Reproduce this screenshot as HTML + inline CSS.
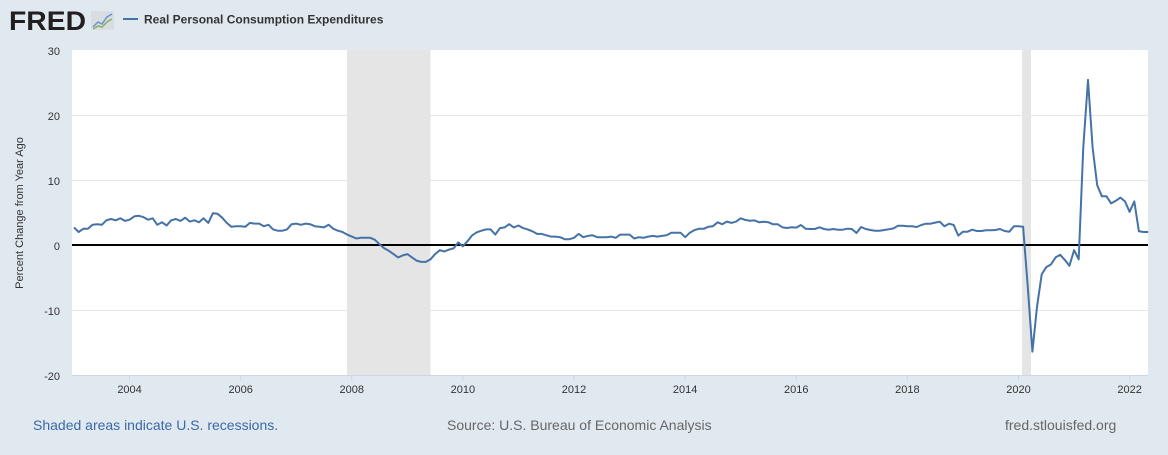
<!DOCTYPE html>
<html><head><meta charset="utf-8"><style>
body{margin:0;width:1168px;height:450px;background:#e1e9f0;font-family:"Liberation Sans",sans-serif;overflow:hidden}
</style></head><body>
<svg width="1168" height="450" xmlns="http://www.w3.org/2000/svg" font-family="Liberation Sans, sans-serif">
<text x="9" y="30" font-size="27" font-weight="bold" fill="#231f20" textLength="77" lengthAdjust="spacingAndGlyphs">FRED</text>
<rect x="91" y="11" width="23" height="19" fill="#d8dde2"/>
<polyline points="93,27 98,22 102,24 107,17 112,14" fill="none" stroke="#6a93c8" stroke-width="1.5"/>
<polyline points="93,29 98,26 102,27 107,22 112,19" fill="none" stroke="#8ab060" stroke-width="1.5"/>
<line x1="123" y1="19" x2="138" y2="19" stroke="#4572a7" stroke-width="2"/>
<text x="144" y="23.5" font-size="12" font-weight="bold" fill="#333">Real Personal Consumption Expenditures</text>
<rect x="72" y="50" width="1076" height="325" fill="#fff"/>
<rect x="347" y="50" width="83.5" height="325" fill="#e5e5e5"/>
<rect x="1022" y="50" width="9" height="325" fill="#e5e5e5"/>
<g stroke="#e6e6e6" stroke-width="1">
<line x1="72" y1="115.5" x2="1148" y2="115.5"/><line x1="72" y1="180.5" x2="1148" y2="180.5"/><line x1="72" y1="310.5" x2="1148" y2="310.5"/>
</g>
<line x1="72" y1="375.5" x2="1148" y2="375.5" stroke="#ccd6eb"/>
<line x1="72" y1="245" x2="1148" y2="245" stroke="#000" stroke-width="2"/>
<g font-size="11" fill="#333" text-anchor="end">
<text x="60" y="55">30</text><text x="60" y="120">20</text><text x="60" y="185">10</text><text x="60" y="250">0</text><text x="60" y="315">-10</text><text x="60" y="380">-20</text>
</g>
<g font-size="11" fill="#333" text-anchor="middle" id="xl"></g>
<text transform="translate(23,213) rotate(-90)" font-size="11" fill="#333" text-anchor="middle">Percent Change from Year Ago</text>
<path id="ln" fill="none" stroke="#4572a7" stroke-width="2" stroke-linejoin="round"/>
<text x="33" y="430" font-size="14" fill="#3a69a8">Shaded areas indicate U.S. recessions.</text>
<text x="447" y="430" font-size="14" fill="#666">Source: U.S. Bureau of Economic Analysis</text>
<text x="1005" y="430" font-size="14" fill="#666">fred.stlouisfed.org</text>
</svg>
<script>
var v=[2.7,2.0,2.5,2.5,3.1,3.2,3.1,3.8,4.0,3.8,4.1,3.7,
3.9,4.4,4.5,4.3,3.9,4.1,3.1,3.5,3.0,3.8,4.0,3.7,
4.2,3.6,3.8,3.5,4.1,3.4,4.9,4.8,4.2,3.4,2.8,2.9,
2.9,2.8,3.4,3.3,3.3,2.9,3.1,2.4,2.2,2.2,2.4,3.2,
3.3,3.1,3.3,3.2,2.9,2.8,2.7,
3.1,2.5,2.2,2.0,1.6,1.3,1.0,1.1,1.1,1.1,0.8,0.1,-0.5,-0.9,-1.4,-1.9,-1.6,-1.4,-1.9,-2.4,-2.6,-2.6,-2.2,-1.4,-0.8,-1.0,-0.7,-0.5,0.4,-0.2,0.6,
1.5,1.95,2.2,2.4,2.4,1.6,2.6,2.7,3.2,2.7,3.0,2.6,2.4,2.1,1.7,1.7,1.5,1.3,1.3,1.2,0.9,0.9,1.1,1.7,1.2,1.4,1.5,1.2,1.2,1.2,1.3,1.1,1.6,1.6,1.6,1.0,1.2,1.1,1.3,1.4,1.3,1.4,1.5,1.9,1.9,1.9,1.2,1.9,2.3,2.5,2.5,2.8,2.9,3.5,3.2,3.6,3.4,3.6,4.1,
3.85,3.74,3.79,3.49,3.59,3.49,3.18,3.18,2.72,2.62,2.72,2.67,3.08,2.51,2.46,2.46,2.72,2.46,2.36,2.46,2.36,2.36,2.51,2.46,1.85,2.77,2.46,2.31,2.2,2.2,2.31,2.41,2.56,2.97,2.97,2.87,2.87,2.77,3.08,3.28,3.28,3.44,3.59,2.87,3.28,3.08,
1.44,2.05,2.05,2.36,2.15,2.15,2.26,2.26,2.31,2.46,2.15,2.05,2.87,2.87,2.82,
-6.5,-16.4,-9.5,-4.5,-3.4,-3.0,-1.9,-1.5,-2.3,-3.2,-0.8,-2.2,15.1,25.4,15.0,9.2,7.5,7.5,6.4,6.8,7.3,6.7,5.1,6.7,2.1,2.0,2.0];
var d='';for(var i=0;i<v.length;i++){d+=(i?'L':'M')+(74+i*4.63).toFixed(1)+','+(245-v[i]*6.5).toFixed(1);}
document.getElementById('ln').setAttribute('d',d);
var g=document.getElementById('xl'),ns='http://www.w3.org/2000/svg';
for(var y=2004;y<=2022;y+=2){var x=74+(y-2003)*12*4.63;
var t=document.createElementNS(ns,'text');t.setAttribute('x',x);t.setAttribute('y',393);t.textContent=y;g.appendChild(t);
var l=document.createElementNS(ns,'line');l.setAttribute('x1',x);l.setAttribute('x2',x);l.setAttribute('y1',375);l.setAttribute('y2',381);l.setAttribute('stroke','#ccd6eb');g.appendChild(l);}
</script>
</body></html>
